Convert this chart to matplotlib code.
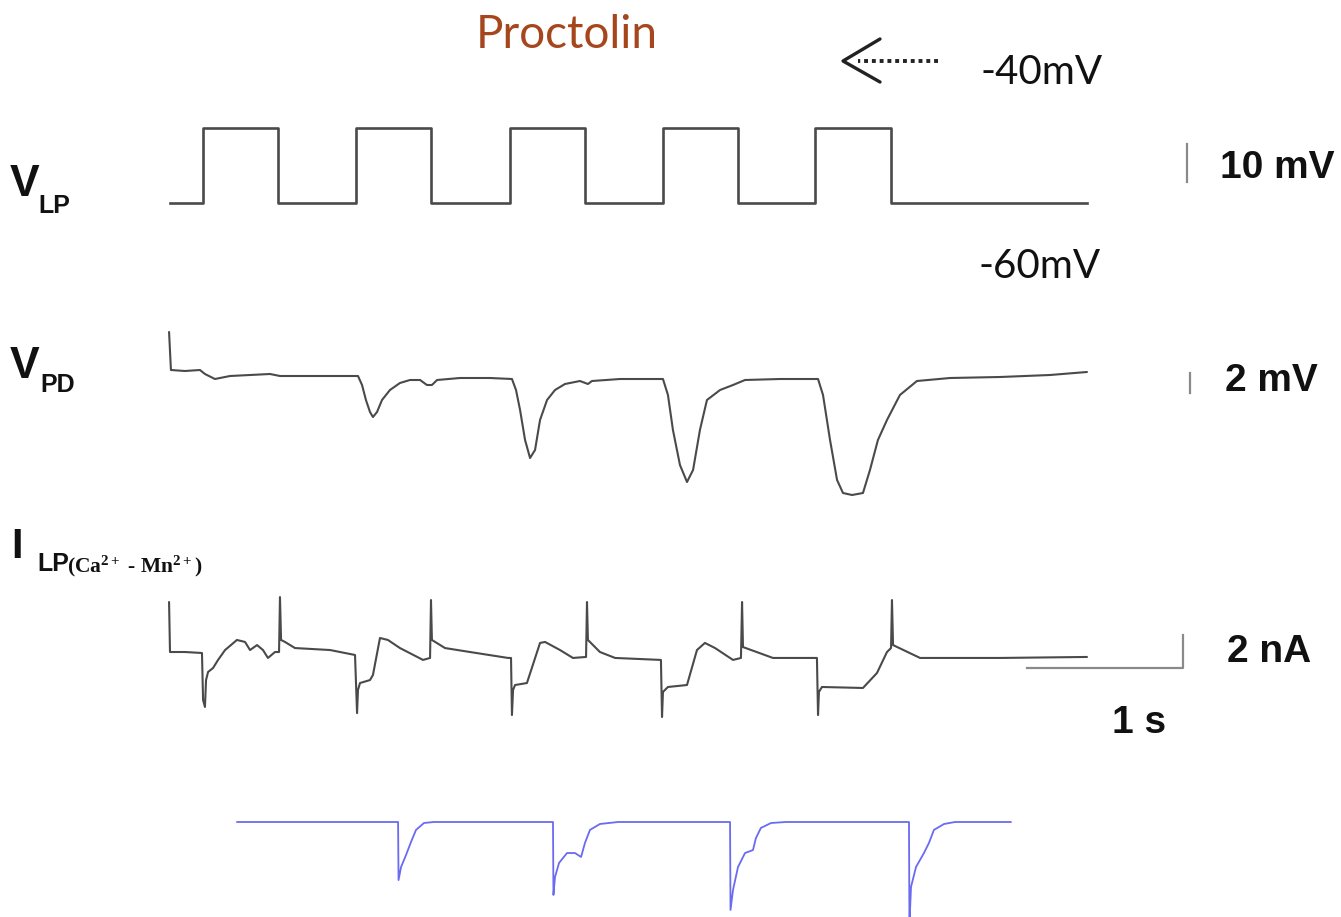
import numpy as np
import matplotlib
matplotlib.use("Agg")
import matplotlib.pyplot as plt

W, H = 1341, 917
plt.rcParams['mathtext.fontset'] = 'custom'
plt.rcParams['mathtext.rm'] = 'Liberation Serif:bold'
plt.rcParams['mathtext.it'] = 'Liberation Serif:bold'
plt.rcParams['mathtext.bf'] = 'Liberation Serif:bold'

# ---- datos (tiempo en s, voltajes en mV, corrientes en nA) ----
# pulsos de voltaje en LP: -60 mV -> -40 mV
lp_hold = -60
lp_step = -40
lp_on = [0.212, 1.192, 2.179, 3.160, 4.135]
lp_off = [0.692, 1.673, 2.660, 3.641, 4.622]
t_end = 5.878

# V_PD (mV relativos a la linea base)
pd_t = [-0.006, 0.006, 0.096, 0.192, 0.224, 0.288, 0.385, 0.513, 0.641, 0.705,
        0.833, 1.026, 1.205, 1.231, 1.256, 1.282, 1.301, 1.327, 1.359, 1.410,
        1.474, 1.538, 1.603, 1.647, 1.679, 1.712, 1.859, 2.051, 2.192, 2.218,
        2.244, 2.276, 2.308, 2.340, 2.372, 2.417, 2.468, 2.532, 2.628, 2.679,
        2.705, 2.885, 3.160, 3.192, 3.224, 3.269, 3.314, 3.353, 3.397, 3.442,
        3.526, 3.609, 3.686, 3.910, 4.154, 4.186, 4.231, 4.276, 4.314, 4.372,
        4.442, 4.487, 4.538, 4.596, 4.679, 4.788, 5.000, 5.321, 5.641, 5.878]
pd_v = [4.6, 0.8, 0.7, 0.8, 0.4, -0.1, 0.2, 0.3, 0.4, 0.2,
        0.2, 0.2, 0.2, -0.7, -2.2, -3.4, -3.9, -3.4, -2.2, -1.2,
        -0.5, -0.2, -0.2, -0.7, -0.7, -0.2, 0.0, 0.0, -0.1, -1.2,
        -3.2, -6.2, -8.0, -7.2, -4.2, -2.2, -1.2, -0.6, -0.3, -0.6,
        -0.3, -0.1, -0.1, -1.7, -5.2, -8.7, -10.4, -9.2, -5.2, -2.2,
        -1.2, -0.7, -0.2, -0.1, -0.1, -1.7, -6.2, -10.2, -11.5, -11.7,
        -11.5, -9.2, -6.2, -4.2, -1.7, -0.3, 0.0, 0.1, 0.3, 0.6]

# I_LP(Ca2+ - Mn2+) medida (nA)
i_t = [-0.006, 0.000, 0.096, 0.205, 0.212, 0.224, 0.231, 0.244, 0.276, 0.308,
       0.353, 0.429, 0.481, 0.513, 0.558, 0.596, 0.628, 0.673, 0.699, 0.705,
       0.712, 0.737, 0.801, 1.026, 1.186, 1.199, 1.205, 1.218, 1.282, 1.301,
       1.346, 1.397, 1.474, 1.622, 1.667, 1.673, 1.679, 1.763, 1.923, 2.167,
       2.186, 2.192, 2.199, 2.212, 2.288, 2.372, 2.404, 2.500, 2.583, 2.667,
       2.673, 2.679, 2.756, 2.853, 3.147, 3.154, 3.160, 3.192, 3.314, 3.378,
       3.429, 3.494, 3.609, 3.660, 3.667, 3.673, 3.865, 4.147, 4.154, 4.160,
       4.179, 4.442, 4.532, 4.596, 4.622, 4.628, 4.635, 4.808, 5.321, 5.878]
i_v = [3.09, 0.06, 0.06, 0.00, -2.85, -3.27, -1.64, -1.15, -0.91, -0.42,
       0.18, 0.79, 0.67, 0.18, 0.48, 0.18, -0.30, 0.06, 0.06, 3.39,
       0.79, 0.67, 0.30, 0.18, -0.12, -3.64, -2.24, -1.82, -1.64, -1.33,
       0.91, 0.79, 0.30, -0.42, -0.30, 3.21, 0.79, 0.30, 0.06, -0.30,
       -0.30, -3.76, -2.24, -1.94, -1.82, 0.61, 0.67, 0.18, -0.30, -0.24,
       3.09, 0.79, 0.06, -0.30, -0.42, -3.88, -2.36, -2.06, -1.94, 0.18,
       0.61, 0.30, -0.42, -0.30, 3.09, 0.36, -0.30, -0.30, -3.76, -2.36,
       -2.06, -2.12, -1.21, 0.06, 0.30, 3.21, 0.48, -0.30, -0.30, -0.24]

# corriente del modelo (nA)
m_t = [0.429, 1.462, 1.465, 1.481, 1.513, 1.545, 1.577, 1.628, 1.692,
       2.455, 2.458, 2.468, 2.494, 2.545, 2.596, 2.635, 2.660, 2.692, 2.756, 2.872,
       3.590, 3.593, 3.609, 3.641, 3.686, 3.737, 3.756, 3.788, 3.853, 3.949,
       4.737, 4.740, 4.750, 4.782, 4.833, 4.865, 4.897, 4.962, 5.032, 5.391]
m_v = [0.0, 0.0, -3.52, -2.73, -2.00, -1.21, -0.48, -0.06, 0.0,
       0.0, -4.42, -3.33, -2.48, -1.88, -1.88, -2.12, -1.27, -0.48, -0.12, 0.0,
       0.0, -5.33, -4.12, -2.73, -1.88, -1.70, -0.97, -0.36, -0.06, 0.0,
       0.0, -6.24, -3.94, -2.73, -1.88, -1.27, -0.48, -0.12, 0.0, 0.0]

# ---- figura ----
fig = plt.figure(figsize=(W / 100, H / 100), dpi=100)

PX_S = 156.0      # px por segundo
X0 = 170.0        # px de t = 0


def capa(y_ref, v_ref, px_unidad):
    ax = fig.add_axes([0, 0, 1, 1])
    ax.set_xlim(-X0 / PX_S, (W - X0) / PX_S)
    ax.set_ylim(v_ref - (H - y_ref) / px_unidad, v_ref + y_ref / px_unidad)
    ax.axis('off')
    ax.patch.set_visible(False)
    return ax


trace_col = '#4a4a4a'
bar_col = '#8a8a8a'
estilo = dict(solid_joinstyle='round', solid_capstyle='round')

# V_LP
ax1 = capa(203, lp_hold, 3.75)
lt, lv = [0.0], [lp_hold]
for a, b in zip(lp_on, lp_off):
    lt += [a, a, b, b]
    lv += [lp_hold, lp_step, lp_step, lp_hold]
lt.append(t_end)
lv.append(lp_hold)
ax1.plot(lt, lv, color=trace_col, lw=1.9)
ax1.plot([6.519, 6.519], [-54.4, -44.4], color=bar_col, lw=1.6)

# V_PD
ax2 = capa(378, 0, 10.0)
ax2.plot(pd_t, pd_v, color=trace_col, lw=1.5, **estilo)
ax2.plot([6.538, 6.538], [-1.5, 0.5], color=bar_col, lw=1.6)

# I_LP
ax3 = capa(653, 0, 16.5)
ax3.plot(i_t, i_v, color=trace_col, lw=1.5, **estilo)
ax3.plot([5.494, 6.494, 6.494], [-0.91, -0.91, 1.09], color=bar_col, lw=1.6)

# modelo
ax4 = capa(822, 0, 16.5)
ax4.plot(m_t, m_v, color='#6a6af2', lw=1.3, **estilo)

# ---- textos y flecha (coordenadas en px) ----
axt = fig.add_axes([0, 0, 1, 1])
axt.set_xlim(0, W)
axt.set_ylim(H, 0)
axt.axis('off')
axt.patch.set_visible(False)

axt.text(476, 48, "Proctolin", color='#a5461c', fontsize=33, family='Lato', va='baseline')
axt.text(981, 84, "-40mV", color='#111111', fontsize=29, family='Lato', va='baseline')
axt.text(979, 278, "-60mV", color='#111111', fontsize=29, family='Lato', va='baseline')

axt.plot([938, 858], [61, 61], color='#222222', lw=2.8, ls=(0, (1.0, 1.0)))
axt.plot([880, 843, 880], [39, 61, 82], color='#222222', lw=2.4, solid_capstyle='round')

lab = dict(family='Liberation Sans', weight='bold', color='#111111', va='baseline')
axt.text(10, 196, "V", fontsize=32, **lab)
axt.text(38, 213, "LP", fontsize=18, **lab)
axt.text(10, 378, "V", fontsize=32, **lab)
axt.text(40, 392, "PD", fontsize=18, **lab)
axt.text(11, 558, "I", fontsize=30, **lab)
axt.text(37, 571, "LP", fontsize=18, **lab)
axt.text(67, 572, r"$\mathrm{(Ca^{2+}}$ - $\mathrm{Mn^{2+})}$", fontsize=15.5,
         family='Liberation Serif', weight='bold', color='#111111', va='baseline')

axt.text(1220, 178, "10 mV", fontsize=28, **lab)
axt.text(1225, 391, "2 mV", fontsize=28, **lab)
axt.text(1227, 662, "2 nA", fontsize=28, **lab)
axt.text(1112, 733, "1 s", fontsize=28, **lab)

fig.savefig("out.png", dpi=100, facecolor='white')
